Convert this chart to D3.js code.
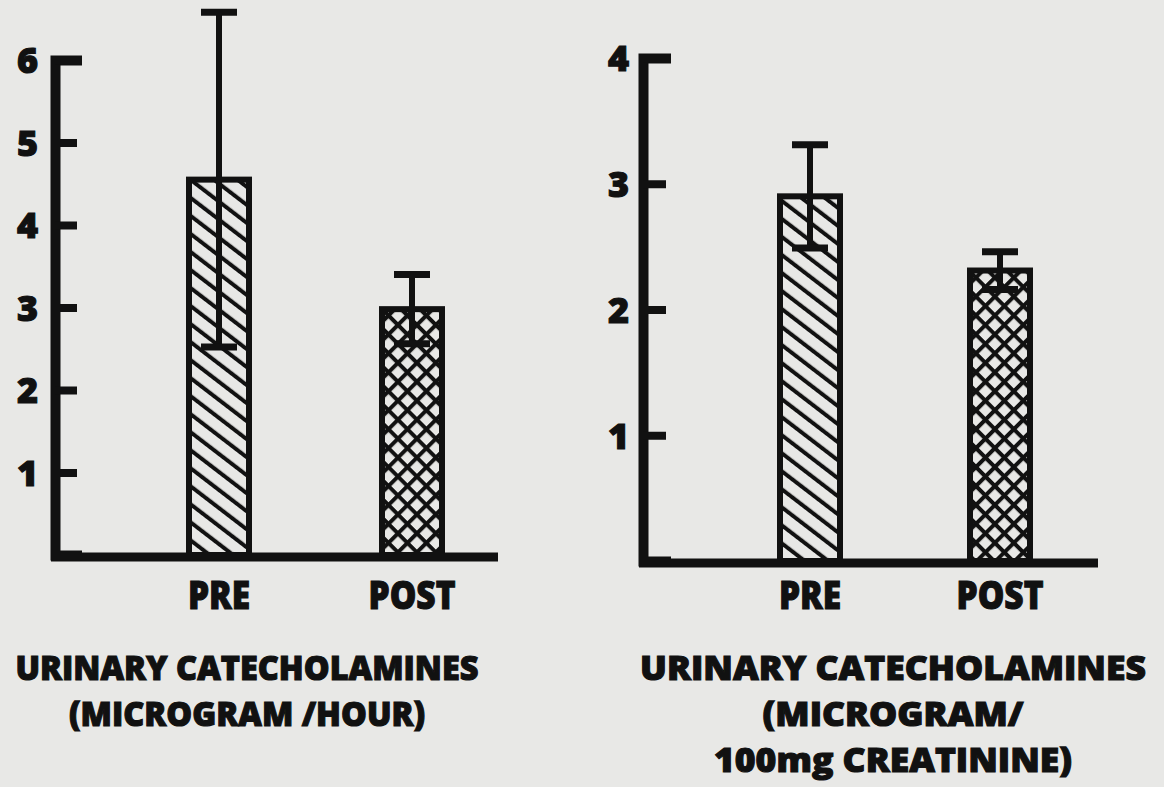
<!DOCTYPE html>
<html>
<head>
<meta charset="utf-8">
<script src="https://cdn.jsdelivr.net/npm/d3@7"></script>
<style>
  html, body { margin: 0; padding: 0; background: #e8e8e6; }
  svg { display: block; }
  text { font-family: "Open Sans", "DejaVu Sans", sans-serif; font-weight: 800; fill: #111;
         stroke: #111; stroke-width: 1.1; paint-order: stroke; }
  .axis .domain { stroke: #111; stroke-width: 10; fill: none; }
  .axis .tick line { stroke: #111; stroke-width: 8; }
  .axis .tick text { font-size: 36px; }
</style>
</head>
<body>
<div class="wrap-chart"></div>
<script>
var
  width = 1164,
  height = 787,
  bg = "#e8e8e6",
  ink = "#111";

// data
var groups = ["PRE", "POST"];
var hourMeans = [4.55, 2.98];
var hourErrors = [2.03, 0.42];
var hourTicks = [1, 2, 3, 4, 5, 6];
var hourTitle = ["URINARY CATECHOLAMINES", "(MICROGRAM /HOUR)"];

var creatMeans = [2.9, 2.31];
var creatErrors = [0.41, 0.15];
var creatTicks = [1, 2, 3, 4];
var creatTitle = ["URINARY CATECHOLAMINES", "(MICROGRAM/", "100mg CREATININE)"];

var patternIds = ["hatch", "cross"];

var svg = d3.select(".wrap-chart")
  .append("svg")
  .attr("width", width)
  .attr("height", height);

svg.append("rect")
  .attr("width", width)
  .attr("height", height)
  .attr("fill", bg);

// fill patterns: single hatch for PRE, cross hatch for POST
var defs = svg.append("defs");
var hatch = defs.append("pattern")
  .attr("id", "hatch")
  .attr("patternUnits", "userSpaceOnUse")
  .attr("width", 14.3)
  .attr("height", 10)
  .attr("patternTransform", "rotate(-52.5)");
hatch.append("rect").attr("width", 14.3).attr("height", 10).attr("fill", bg);
hatch.append("rect").attr("width", 4).attr("height", 10).attr("fill", ink);

var cross = defs.append("pattern")
  .attr("id", "cross")
  .attr("patternUnits", "userSpaceOnUse")
  .attr("width", 13.4)
  .attr("height", 13.4)
  .attr("patternTransform", "rotate(45)");
cross.append("rect").attr("width", 13.4).attr("height", 13.4).attr("fill", bg);
cross.append("rect").attr("width", 4).attr("height", 13.4).attr("fill", ink);
cross.append("rect").attr("width", 13.4).attr("height", 4).attr("fill", ink);

function drawPanel(opt) {
  var g = svg.append("g");

  var y = d3.scaleLinear()
    .domain([0, d3.max(opt.ticks)])
    .range([opt.bottom, opt.top]);

  var x = d3.scalePoint()
    .domain(groups)
    .range(opt.centers);

  // x axis baseline
  g.append("line")
    .attr("x1", opt.axisX - 4)
    .attr("x2", opt.axisEnd)
    .attr("y1", y(0) + 2)
    .attr("y2", y(0) + 2)
    .attr("stroke", ink)
    .attr("stroke-width", 9);

  var bars = g.selectAll(".bar")
    .data(groups)
    .enter()
    .append("g")
    .attr("class", "bar");

  bars.append("rect")
    .attr("x", function (d) { return x(d) - opt.barWidth / 2; })
    .attr("width", opt.barWidth)
    .attr("y", function (d, i) { return y(opt.means[i]); })
    .attr("height", function (d, i) { return y(0) - y(opt.means[i]); })
    .attr("fill", function (d, i) { return "url(#" + patternIds[i] + ")"; })
    .attr("stroke", ink)
    .attr("stroke-width", 6);

  // error bars, mean +/- error
  bars.append("line")
    .attr("x1", function (d) { return x(d); })
    .attr("x2", function (d) { return x(d); })
    .attr("y1", function (d, i) { return y(opt.means[i] + opt.errors[i]); })
    .attr("y2", function (d, i) { return y(opt.means[i] - opt.errors[i]); })
    .attr("stroke", ink)
    .attr("stroke-width", 6);

  [1, -1].forEach(function (sign) {
    bars.append("line")
      .attr("x1", function (d) { return x(d) - opt.capWidth / 2; })
      .attr("x2", function (d) { return x(d) + opt.capWidth / 2; })
      .attr("y1", function (d, i) { return y(opt.means[i] + sign * opt.errors[i]); })
      .attr("y2", function (d, i) { return y(opt.means[i] + sign * opt.errors[i]); })
      .attr("stroke", ink)
      .attr("stroke-width", 7);
  });

  // y axis, ticks pointing inwards
  var axis = g.append("g")
    .attr("class", "axis")
    .attr("transform", "translate(" + opt.axisX + ",0)")
    .call(d3.axisLeft(y)
      .tickValues(opt.ticks)
      .tickSizeInner(-opt.tickLen)
      .tickSizeOuter(-opt.tickLen)
      .tickPadding(opt.labelPad)
      .tickFormat(d3.format("d")));
  axis.select(".domain").attr("stroke-linecap", "square");
  axis.selectAll(".tick text").attr("fill", ink).attr("dy", "0.36em");

  // category labels
  g.selectAll(".cat")
    .data(groups)
    .enter()
    .append("text")
    .attr("class", "cat")
    .attr("x", function (d) { return x(d); })
    .attr("y", opt.catY)
    .attr("text-anchor", "middle")
    .attr("font-size", 38)
    .attr("transform", function (d) {
      return "translate(" + x(d) + ",0) scale(0.88,1) translate(" + (-x(d)) + ",0)";
    })
    .text(function (d) { return d; });

  // title lines, scaled sideways to the width of the original lettering
  g.selectAll(".title")
    .data(opt.title)
    .enter()
    .append("text")
    .attr("class", "title")
    .attr("transform", function (d, i) {
      return "translate(" + opt.titleX + "," + (opt.titleY + i * opt.titleStep) + ") scale(" + opt.titleSqueeze + ",1)";
    })
    .attr("text-anchor", "middle")
    .attr("font-size", 33.5)
    .text(function (d) { return d; });
}

drawPanel({
  means: hourMeans, errors: hourErrors, ticks: hourTicks, title: hourTitle,
  axisX: 55, axisEnd: 498, top: 60, bottom: 555,
  centers: [219, 412], barWidth: 60, capWidth: 36,
  tickLen: 22, labelPad: 17,
  catY: 609, titleX: 247, titleY: 680, titleStep: 46, titleSqueeze: 0.97
});

drawPanel({
  means: creatMeans, errors: creatErrors, ticks: creatTicks, title: creatTitle,
  axisX: 643, axisEnd: 1098, top: 58, bottom: 561,
  centers: [810, 1000], barWidth: 60, capWidth: 36,
  tickLen: 23, labelPad: 14,
  catY: 609, titleX: 893, titleY: 680, titleStep: 46, titleSqueeze: 1.06
});
</script>
</body>
</html>
